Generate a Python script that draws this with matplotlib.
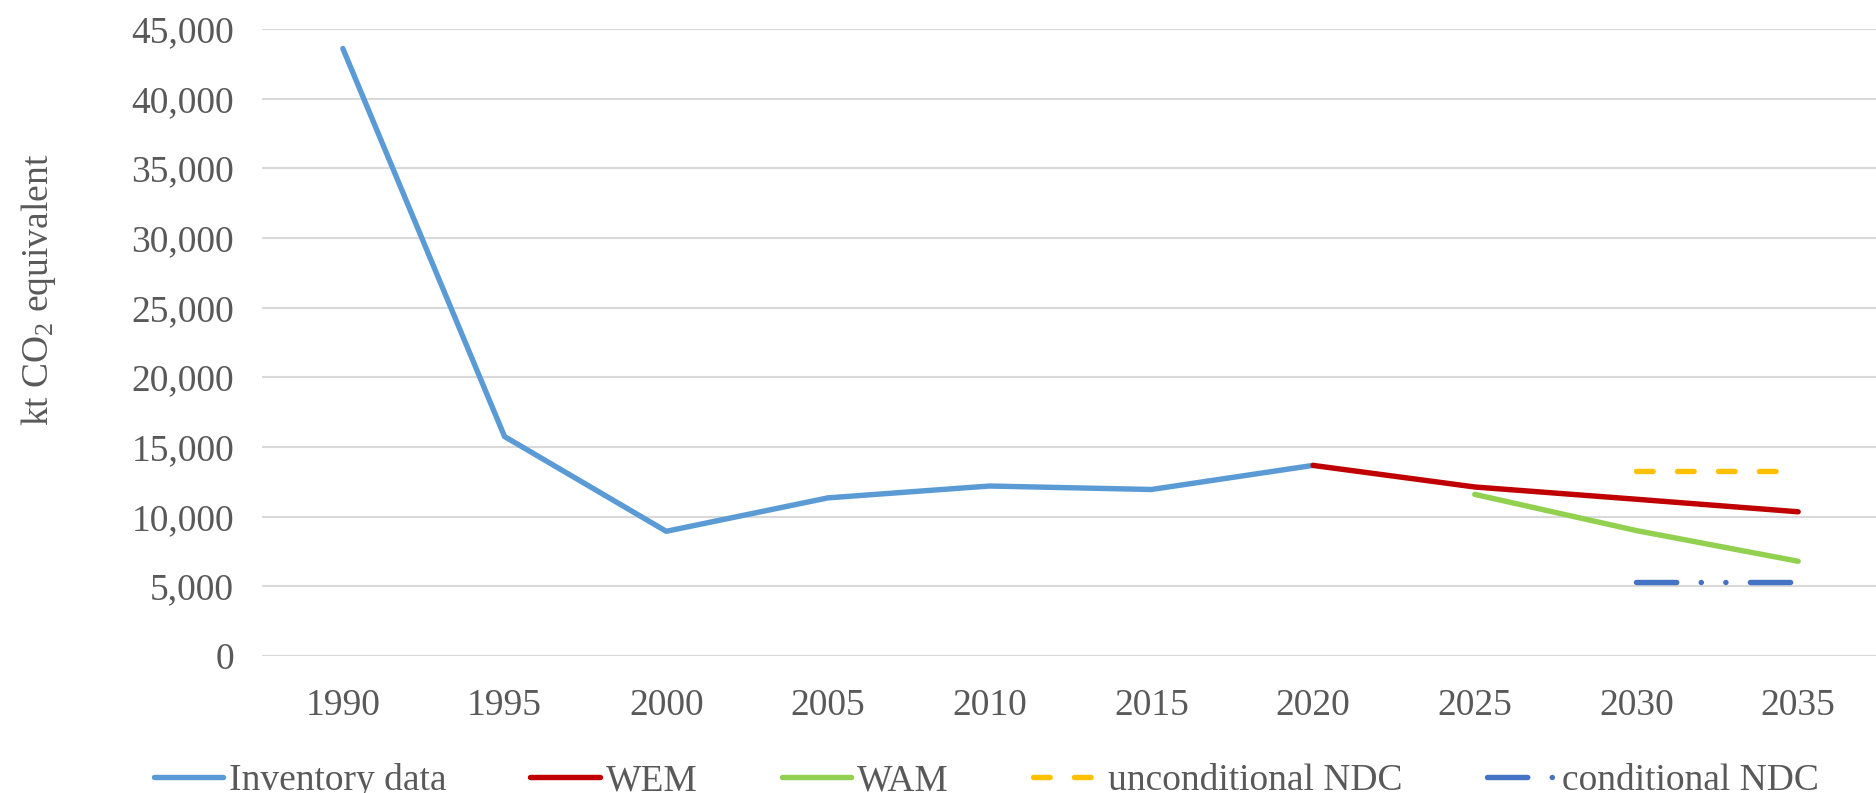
import numpy as np
import matplotlib
matplotlib.use("Agg")
import matplotlib.pyplot as plt

# data (kt CO2 eq)
years = ["1990", "1995", "2000", "2005", "2010", "2015", "2020", "2025", "2030", "2035"]
inventory = [43600, 15750, 8950, 11350, 12200, 11950, 13680, None, None, None]
wem = [None, None, None, None, None, None, 13680, 12130, 11250, 10350]
wam = [None, None, None, None, None, None, None, 11600, 9000, 6800]
ndc_uncond = [None, None, None, None, None, None, None, None, 13280, 13280]
ndc_cond = [None, None, None, None, None, None, None, None, 5330, 5330]

plt.rcParams['font.family'] = ['Liberation Serif', 'DejaVu Serif']
plt.rcParams['mathtext.fontset'] = 'custom'
plt.rcParams['mathtext.rm'] = 'Liberation Serif'
plt.rcParams['mathtext.it'] = 'Liberation Serif'
plt.rcParams['lines.scale_dashes'] = False

txt = '#595959'
fs = 27

fig = plt.figure(figsize=(18.76, 7.93), dpi=100)
ax = fig.add_axes([262 / 1876, 1 - 656 / 793, (1879 - 262) / 1876, (656 - 29) / 793])

x = np.arange(len(years))

def arr(v):
    return np.array([np.nan if a is None else a for a in v], dtype=float)

lw = 3.9
ax.plot(x, arr(inventory), color='#5B9BD5', lw=lw, solid_capstyle='round',
        label='Inventory data', zorder=3)
ax.plot(x, arr(wem), color='#C00000', lw=lw, solid_capstyle='round', label='WEM', zorder=3)
ax.plot(x, arr(wam), color='#92D050', lw=lw, solid_capstyle='round', label='WAM', zorder=3)
ax.plot(x, arr(ndc_uncond), color='#FFC000', lw=lw, dash_capstyle='round',
        dashes=(12.0, 17.5), label='unconditional NDC', zorder=3)
ax.plot(x, arr(ndc_cond), color='#4472C4', lw=lw, dash_capstyle='round',
        dashes=(29.0, 17.6, 0.1, 17.6, 0.1, 17.6), label='conditional NDC', zorder=3)

ax.set_xlim(-0.5, 9.5)
ax.set_ylim(0, 45000)
ax.set_yticks(np.arange(0, 45001, 5000))
ax.yaxis.set_major_formatter(matplotlib.ticker.FuncFormatter(lambda v, p: f'{int(v):,}'))
ax.set_xticks(x)
ax.set_xticklabels(years)
ax.grid(axis='y', color='#D9D9D9', lw=1.5)
ax.set_axisbelow(True)
for s in ax.spines.values():
    s.set_visible(False)
ax.tick_params(axis='both', length=0, labelsize=fs, colors=txt)
ax.tick_params(axis='y', pad=20)
ax.tick_params(axis='x', pad=23.5)

ax.set_ylabel('kt CO$_2$ equivalent', fontsize=fs, color=txt)
ax.yaxis.set_label_coords(-0.126, 0.584)

fig.legend(loc='center', bbox_to_anchor=(986 / 1876, 1 - 781 / 793), ncol=5,
           frameon=False, fontsize=fs, labelcolor=txt, handlelength=1.85,
           handletextpad=0.15, columnspacing=2.25, borderaxespad=0, borderpad=0)

fig.savefig('out.png', dpi=100)
